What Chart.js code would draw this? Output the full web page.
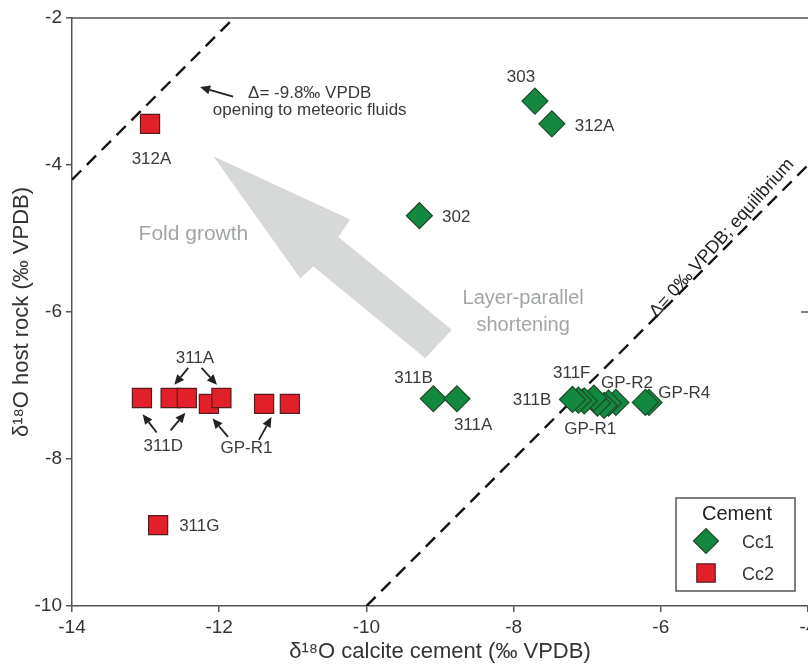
<!DOCTYPE html>
<html><head><meta charset="utf-8">
<script src="https://cdn.jsdelivr.net/npm/chart.js@4.4.1/dist/chart.umd.min.js"></script>
<style>html,body{margin:0;padding:0;background:#fff;overflow:hidden}</style>
</head><body>
<canvas id="c" width="808" height="665" style="width:808px;height:665px;display:block"></canvas>
<script>
// ---- data ----
const cc1X = [-7.71, -7.48, -9.28, -9.09, -8.77, -6.16, -6.21, -6.61, -6.71, -6.77, -6.86, -6.91, -7.04, -7.12, -7.20];
const cc1Y = [-3.13, -3.44, -4.69, -7.18, -7.18, -7.23, -7.23, -7.23, -7.24, -7.27, -7.24, -7.17, -7.21, -7.20, -7.19];
const cc2X = [-12.94, -13.05, -12.66, -12.44, -12.14, -11.97, -11.39, -11.04, -12.83];
const cc2Y = [-3.44, -7.17, -7.17, -7.17, -7.25, -7.17, -7.25, -7.25, -8.90];
const deltaValues = [-9.8, 0];           // Δ = δ18O cement − δ18O host rock
const xTicks = [-14, -12, -10, -8, -6, -4];
const yTicks = [-10, -8, -6, -4, -2];

// point labels
const labelText = ['312A', '311A', '311D', 'GP-R1', '311G', '303', '312A', '302', '311B', '311A', '311F', 'GP-R2', 'GP-R4', '311B', 'GP-R1'];
const labelX = [-12.92, -12.33, -12.76, -11.63, -12.27, -7.90, -6.90, -8.78, -9.36, -8.55, -7.21, -6.46, -5.68, -7.75, -6.96];
const labelY = [-3.92, -6.63, -7.83, -7.85, -8.91, -2.81, -3.48, -4.71, -6.90, -7.54, -6.83, -6.97, -7.10, -7.20, -7.60];
// small black pointer arrows [tailX, tailY, tipX, tipY]
const pointerTailX = [-11.81, -12.42, -12.24, -12.85, -12.66, -11.88, -11.46];
const pointerTailY = [-3.07, -6.76, -6.76, -7.64, -7.61, -7.70, -7.74];
const pointerTipX = [-12.26, -12.61, -12.03, -13.04, -12.46, -12.09, -11.29];
const pointerTipY = [-2.94, -6.99, -6.99, -7.39, -7.37, -7.45, -7.43];
// big grey trend arrow outline
const trendX = [-12.08, -10.22, -10.38, -8.84, -9.20, -10.72, -10.90];
const trendY = [-3.88, -4.74, -4.98, -6.24, -6.63, -5.38, -5.54];

const FONT = "'Liberation Sans', Arial, sans-serif";
const TXT = '#3a3a3a';
const GREEN = '#13893f', GREEN_B = '#1c4a2a';
const RED = '#e2202a', RED_B = '#5a1c1c';

const lineSets = deltaValues.map(d => {
  const x0 = Math.max(-14, -10 + d), x1 = Math.min(-4, -2 + d);
  return [{x: x0, y: x0 - d}, {x: x1, y: x1 - d}];
});

const annot = {
  id: 'annot',
  beforeDatasetsDraw(chart) {
    const {ctx, scales: {x, y}} = chart;
    ctx.save();
    ctx.fillStyle = '#d7d9d9';
    ctx.beginPath();
    trendX.forEach((v, i) => {
      const px = x.getPixelForValue(v), py = y.getPixelForValue(trendY[i]);
      i ? ctx.lineTo(px, py) : ctx.moveTo(px, py);
    });
    ctx.closePath(); ctx.fill();
    ctx.fillStyle = '#a2a5a7';
    ctx.font = '21px ' + FONT;
    ctx.textAlign = 'center'; ctx.textBaseline = 'middle';
    ctx.fillText('Fold growth', x.getPixelForValue(-12.35), y.getPixelForValue(-4.94));
    ctx.font = '20px ' + FONT;
    ctx.fillText('Layer-parallel', x.getPixelForValue(-7.87), y.getPixelForValue(-5.81));
    ctx.fillText('shortening', x.getPixelForValue(-7.87), y.getPixelForValue(-6.18));
    ctx.restore();
  },
  afterDatasetsDraw(chart) {
    const {ctx, chartArea: ca, scales: {x, y}} = chart;
    ctx.save();
    // top frame line and right-edge tick
    ctx.strokeStyle = '#555'; ctx.lineWidth = 1.5;
    ctx.beginPath(); ctx.moveTo(ca.left, ca.top); ctx.lineTo(ca.right, ca.top); ctx.stroke();
    [-6].forEach(v => {
      const py = y.getPixelForValue(v);
      ctx.beginPath(); ctx.moveTo(ca.right - 7, py); ctx.lineTo(ca.right, py); ctx.stroke();
    });
    // labels
    ctx.fillStyle = TXT; ctx.font = '17px ' + FONT;
    ctx.textAlign = 'center'; ctx.textBaseline = 'middle';
    labelText.forEach((t, i) => ctx.fillText(t, x.getPixelForValue(labelX[i]), y.getPixelForValue(labelY[i])));
    ctx.fillText('\u0394= -9.8\u2030 VPDB', x.getPixelForValue(-10.77), y.getPixelForValue(-3.02));
    ctx.fillText('opening to meteoric fluids', x.getPixelForValue(-10.77), y.getPixelForValue(-3.25));
    // pointer arrows
    ctx.strokeStyle = '#222'; ctx.fillStyle = '#222'; ctx.lineWidth = 1.8;
    pointerTailX.forEach((v, i) => {
      const x0 = x.getPixelForValue(v), y0 = y.getPixelForValue(pointerTailY[i]);
      const x1 = x.getPixelForValue(pointerTipX[i]), y1 = y.getPixelForValue(pointerTipY[i]);
      const a = Math.atan2(y1 - y0, x1 - x0), L = 10, W = 4.5;
      const bx = x1 - L * Math.cos(a), by = y1 - L * Math.sin(a);
      ctx.beginPath(); ctx.moveTo(x0, y0); ctx.lineTo(bx, by); ctx.stroke();
      ctx.beginPath(); ctx.moveTo(x1, y1);
      ctx.lineTo(bx + W * Math.sin(a), by - W * Math.cos(a));
      ctx.lineTo(bx - W * Math.sin(a), by + W * Math.cos(a));
      ctx.closePath(); ctx.fill();
    });
    // rotated equilibrium label (baseline just above the Δ=0 line)
    ctx.save();
    ctx.translate(x.getPixelForValue(-5.08) - 3, y.getPixelForValue(-5.08) - 3);
    ctx.rotate(-48 * Math.PI / 180);
    ctx.font = '18px ' + FONT; ctx.fillStyle = '#222';
    ctx.textBaseline = 'alphabetic';
    ctx.fillText('\u0394= 0\u2030 VPDB; equilibrium', 0, 0);
    ctx.restore();
    // legend box
    const lx = 676, ly = 498, lw = 119, lh = 93;
    ctx.fillStyle = '#fff'; ctx.fillRect(lx, ly, lw, lh);
    ctx.strokeStyle = '#555'; ctx.lineWidth = 1.5; ctx.strokeRect(lx, ly, lw, lh);
    ctx.fillStyle = '#222'; ctx.font = '20px ' + FONT;
    ctx.fillText('Cement', lx + 61, ly + 16);
    ctx.font = '18px ' + FONT; ctx.fillStyle = TXT;
    ctx.fillText('Cc1', lx + 82, ly + 45);
    ctx.fillText('Cc2', lx + 82, ly + 77);
    ctx.fillStyle = GREEN; ctx.strokeStyle = GREEN_B; ctx.lineWidth = 1.2;
    Chart.helpers.drawPoint(ctx, {pointStyle: 'rectRot', radius: 12.5, borderWidth: 1.2}, lx + 30, ly + 43);
    ctx.fillStyle = RED; ctx.strokeStyle = RED_B;
    Chart.helpers.drawPoint(ctx, {pointStyle: 'rect', radius: 13, borderWidth: 1.2}, lx + 30, ly + 75);
    ctx.restore();
  }
};

new Chart(document.getElementById('c'), {
  type: 'scatter',
  data: {
    datasets: [
      {label: 'Cc1', data: cc1X.map((v, i) => ({x: v, y: cc1Y[i]})), pointStyle: 'rectRot', pointRadius: 13,
       backgroundColor: GREEN, borderColor: GREEN_B, borderWidth: 1.2, order: 1},
      {label: 'Cc2', data: cc2X.map((v, i) => ({x: v, y: cc2Y[i]})), pointStyle: 'rect', pointRadius: 13.5,
       backgroundColor: RED, borderColor: RED_B, borderWidth: 1.2, order: 2},
      ...lineSets.map((d, i) => ({label: 'delta' + i, data: d, showLine: true, pointRadius: 0, borderColor: '#111',
       borderWidth: 2.4, borderDash: [13, 8], fill: false, order: 5}))
    ]
  },
  options: {
    responsive: false, animation: false, devicePixelRatio: 1,
    layout: {autoPadding: false, padding: {top: 18, right: 0, left: 0, bottom: 0}},
    plugins: {legend: {display: false}, tooltip: {enabled: false}},
    scales: {
      x: {
        type: 'linear', min: -14, max: -4,
        afterBuildTicks: s => { s.ticks = xTicks.map(v => ({value: v})); },
        afterFit: s => { s.height = 59; s.paddingLeft = 0; s.paddingRight = 0; },
        ticks: {font: {size: 19, family: FONT}, color: '#333', padding: 4, maxRotation: 0, autoSkip: false},
        grid: {drawOnChartArea: false, drawTicks: true, tickLength: 6, color: '#555', lineWidth: 1.5},
        border: {display: true, color: '#555', width: 1.5},
        title: {display: true, text: '\u03b4\u00b9\u2078O calcite cement (\u2030 VPDB)', font: {size: 22, family: FONT}, color: '#333', padding: {top: 0, bottom: 0}}
      },
      y: {
        type: 'linear', min: -10, max: -2,
        afterBuildTicks: s => { s.ticks = yTicks.map(v => ({value: v})); },
        afterFit: s => { s.width = 72; s.paddingTop = 0; s.paddingBottom = 0; },
        ticks: {font: {size: 19, family: FONT}, color: '#333', padding: 4, autoSkip: false},
        grid: {drawOnChartArea: false, drawTicks: true, tickLength: 6, color: '#555', lineWidth: 1.5},
        border: {display: true, color: '#555', width: 1.5},
        title: {display: true, text: '\u03b4\u00b9\u2078O host rock (\u2030 VPDB)', font: {size: 22, family: FONT}, color: '#333', padding: {top: 9, bottom: 0}}
      }
    }
  },
  plugins: [annot]
});
</script>
</body></html>
